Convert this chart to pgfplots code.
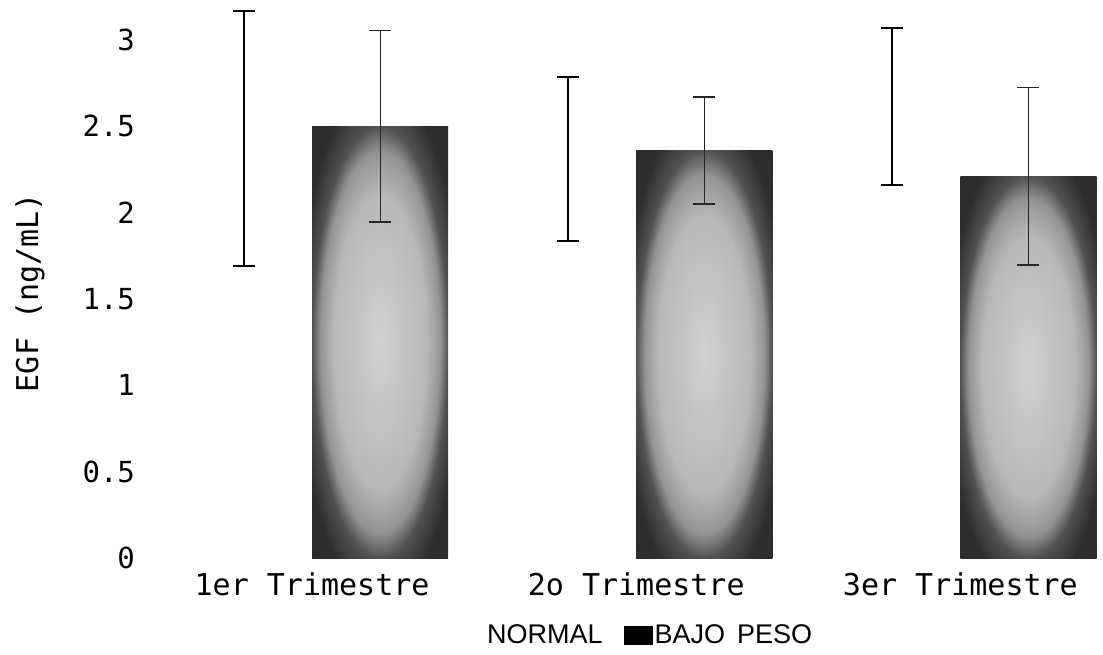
\documentclass[border=0pt]{standalone}
\usepackage{pgfplots}
\pgfplotsset{compat=1.18}
\usepackage{fontspec}
\setmonofont{DejaVu Sans Mono}
\newfontfamily\legfont{Liberation Sans}
\pgfdeclareradialshading{barglow}{\pgfpoint{0bp}{0bp}}{color(0bp)=(black!18); color(17bp)=(black!28); color(22bp)=(black!42); color(25bp)=(black!68); color(30bp)=(black!82); color(50bp)=(black!85)}
\pgfplotsset{
  normalbar/.style={forget plot, fill=white, draw=none, bar shift=-0.21,
    error bars/.cd, y dir=both, y explicit,
    error bar style={black, line width=1pt},
    error mark options={rotate=90, mark size=5.5pt, line width=1pt, black}},
  bajobar/.style={forget plot, draw=none, shading=barglow, bar shift=0.21,
    error bars/.cd, y dir=both, y explicit,
    error bar style={black!85, line width=0.55pt},
    error mark options={rotate=90, mark size=5.5pt, line width=0.8pt, black!85}},
}
\begin{document}
\begin{tikzpicture}
\begin{axis}[
  at={(0,0)}, anchor=south west,
  scale only axis, width=476.5pt, height=276.3pt,
  xmin=-0.5, xmax=2.44, ymin=0, ymax=3.2,
  axis line style={draw=none}, major tick length=0pt,
  xtick={0,1,2}, xticklabels={1er Trimestre,2o Trimestre,3er Trimestre},
  ytick={0,0.5,1,1.5,2,2.5,3},
  /pgf/number format/assume math mode=true,
  yticklabel style={font=\ttfamily\fontsize{14.5}{16}\selectfont, anchor=east, xshift=-4pt},
  xticklabel style={font=\ttfamily\fontsize{15}{17}\selectfont, yshift=-4pt},
  ylabel={EGF (ng/mL)},
  ylabel style={font=\ttfamily\fontsize{15}{17}\selectfont, at={(axis description cs:-0.126,0.48)}, anchor=center, rotate=0},
  ybar=0pt, bar width=0.42,
  legend style={draw=none, fill=none, font=\legfont\fontsize{13.5}{15}\selectfont, legend columns=2,
    at={(axis description cs:0.509,-0.141)}, anchor=center,
    nodes={inner sep=1pt},
    /tikz/every even column/.append style={column sep=9.5pt}},
  legend image code/.code={\fill[#1] (0pt,-4.75pt) rectangle (14.5pt,4.75pt);},
]
\addlegendimage{fill=white, draw=none}
\addlegendentry{NORMAL}
\addlegendimage{fill=black, draw=none}
\addlegendentry{BAJO\hspace{6pt}PESO}
% NORMAL (mean +- error)
\addplot[normalbar] coordinates {(0,2.43) +- (0,0.74)};
\addplot[normalbar] coordinates {(1,2.31) +- (0,0.475)};
\addplot[normalbar] coordinates {(2,2.615) +- (0,0.455)};
% BAJO PESO (mean +- error)
\addplot[bajobar] coordinates {(0,2.50) +- (0,0.555)};
\addplot[bajobar] coordinates {(1,2.36) +- (0,0.31)};
\addplot[bajobar] coordinates {(2,2.21) +- (0,0.515)};
\end{axis}
\pgfresetboundingbox
\path (-75pt,-48pt) rectangle (476.5pt,279pt);
\end{tikzpicture}
\end{document}
